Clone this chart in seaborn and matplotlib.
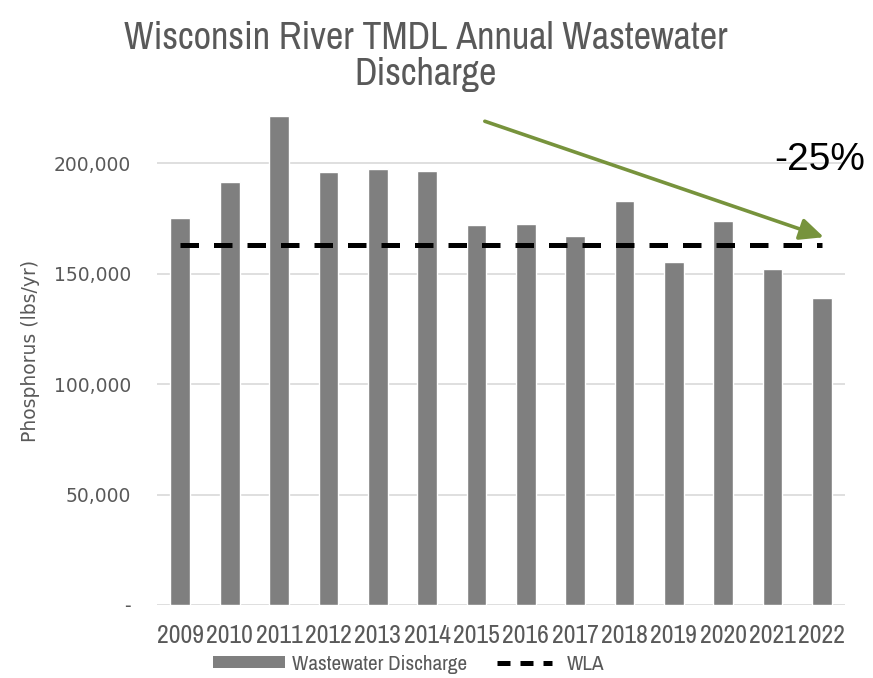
import matplotlib
matplotlib.use("Agg")
import matplotlib.pyplot as plt
import numpy as np
import seaborn as sns
import pandas as pd
from matplotlib.patches import Patch
from matplotlib.lines import Line2D
from matplotlib.legend_handler import HandlerLine2D
from matplotlib.ticker import FuncFormatter

years = ["2009", "2010", "2011", "2012", "2013", "2014", "2015",
         "2016", "2017", "2018", "2019", "2020", "2021", "2022"]
discharge = [175400, 191300, 221600, 195900, 197300, 196700, 172100,
             172300, 167000, 182900, 155500, 173900, 151900, 138900]
wla_value = 162900
title = "Wisconsin River TMDL Annual Wastewater\nDischarge"
ylabel = "Phosphorus (lbs/yr)"
change_label = "-25%"

sns.set_theme(style="white")
narrow = ["Archivo Narrow", "Liberation Sans", "DejaVu Sans"]
grey_txt = "#595959"

fig = plt.figure(figsize=(8.73, 6.78), dpi=100)
ax = fig.add_axes([0.18, 0.1077, 0.788, 0.7493])

df = pd.DataFrame({"year": years, "value": discharge})
sns.barplot(data=df, x="year", y="value", color="#7f7f7f", saturation=1,
            width=0.4, ax=ax, zorder=2)

xs = list(range(len(years)))
ax.plot([xs[0], xs[-1]], [wla_value, wla_value], color="black", lw=3.6,
        dashes=(3.7, 3.0), zorder=3)

ax.set_xlim(-0.47, len(years) - 1 + 0.47)
ax.set_ylim(0, 230000)
ax.set_yticks([0, 50000, 100000, 150000, 200000])
ax.yaxis.set_major_formatter(FuncFormatter(lambda v, p: "-" if v == 0 else f"{int(v):,}"))
ax.grid(axis="y", color="#d9d9d9", lw=1.2, zorder=0)
ax.set_axisbelow(True)
for s in ax.spines.values():
    s.set_visible(False)
ax.tick_params(axis="y", length=0, pad=19, labelsize=13.5, labelcolor=grey_txt)
ax.tick_params(axis="x", length=0, pad=14, labelcolor=grey_txt)
for lab in ax.get_xticklabels():
    lab.set_fontfamily(narrow)
    lab.set_fontsize(18.5)
ax.set_xlabel("")
ax.set_ylabel(ylabel, fontsize=13.5, color=grey_txt, labelpad=10)

fig.text(0.488, 0.917, title, ha="center", va="center", fontsize=27.5,
         color=grey_txt, family=narrow, linespacing=1.04)

ax.annotate("", xy=(13.04, 166500), xytext=(6.17, 219000),
            arrowprops=dict(arrowstyle="-|>,head_length=1.2,head_width=0.55",
                            color="#77933C", lw=2.6, shrinkA=0, shrinkB=0),
            zorder=4)
fig.text(0.939, 0.764, change_label, ha="center", va="center", fontsize=28,
         color="black", family=["Liberation Sans", "DejaVu Sans"])


class ShortLine(HandlerLine2D):
    def get_xdata(self, legend, xdescent, ydescent, width, height, fontsize):
        f = 0.76
        xd = np.array([-xdescent + width * (1 - f) / 2, -xdescent + width * (1 + f) / 2])
        return xd, xd


handles = [Patch(facecolor="#7f7f7f", edgecolor="none", label="Wastewater Discharge"),
           Line2D([0], [0], color="black", lw=3.6, dashes=(2.6, 2.0), label="WLA")]
fig.legend(handles=handles, loc="center", bbox_to_anchor=(0.468, 0.02), ncol=2,
           frameon=False, handlelength=3.45, handleheight=0.5, columnspacing=1.0,
           handletextpad=0.3, borderpad=0.2, prop={"family": narrow, "size": 15.2},
           labelcolor=grey_txt, handler_map={Line2D: ShortLine()})

fig.savefig("out.png", dpi=100)
